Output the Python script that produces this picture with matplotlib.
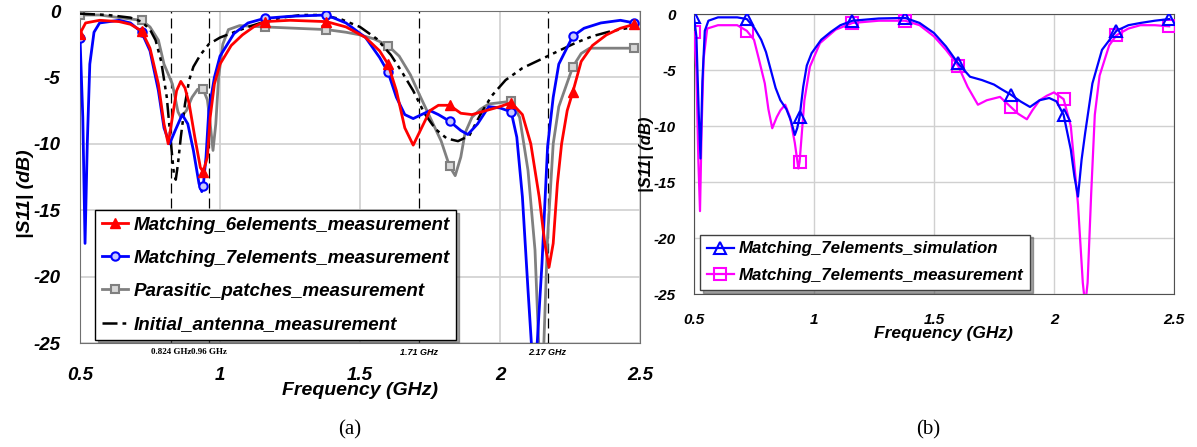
import numpy as np
import matplotlib.pyplot as plt

# ---- panel (a) data ----
red_f = [0.50, 0.52, 0.57, 0.64, 0.68, 0.72, 0.75, 0.78, 0.80, 0.815, 0.83, 0.845,
         0.86, 0.875, 0.89, 0.91, 0.93, 0.94, 0.955, 0.965, 0.98, 1.00, 1.04, 1.08,
         1.12, 1.16, 1.25, 1.38, 1.45, 1.52, 1.57, 1.60, 1.63, 1.66, 1.69, 1.72, 1.75,
         1.78, 1.82, 1.86, 1.90, 1.95, 2.00, 2.04, 2.08, 2.11, 2.14, 2.16, 2.175, 2.19,
         2.205, 2.22, 2.24, 2.26, 2.29, 2.33, 2.38, 2.43, 2.48]
red_s = [-1.7, -0.9, -0.7, -0.8, -1.0, -1.5, -2.8, -5.5, -8.5, -10.0, -8.0, -6.0,
         -5.3, -5.8, -7.0, -9.5, -11.8, -12.1, -11.0, -8.0, -5.5, -4.0, -2.6, -1.8,
         -1.2, -0.8, -0.7, -0.8, -1.2, -2.0, -3.0, -4.0, -6.0, -8.8, -10.1, -8.8, -7.5,
         -7.1, -7.1, -7.7, -7.8, -7.5, -7.2, -6.9, -7.8, -10.0, -14.0, -17.5, -19.3, -17.5,
         -13.0, -10.0, -7.5, -6.1, -3.8, -2.6, -1.8, -1.3, -1.0]

blue_f = [0.50, 0.51, 0.518, 0.526, 0.535, 0.55, 0.57, 0.64, 0.68, 0.72, 0.75, 0.78,
          0.80, 0.82, 0.84, 0.865, 0.885, 0.905, 0.925, 0.935, 0.94, 0.95, 0.96, 0.98,
          1.00, 1.05, 1.10, 1.16, 1.25, 1.38, 1.45, 1.52, 1.57, 1.60, 1.63, 1.66, 1.69,
          1.72, 1.75, 1.78, 1.82, 1.86, 1.885, 1.92, 1.96, 2.00, 2.04, 2.06, 2.08, 2.10,
          2.115, 2.13, 2.15, 2.17, 2.19, 2.21, 2.26, 2.30, 2.36, 2.43, 2.48]
blue_s = [-2.0, -8.0, -17.5, -10.0, -4.0, -1.6, -0.9, -0.7, -0.9, -1.6, -3.0, -6.0,
          -8.8, -10.0, -9.0, -7.8, -8.5, -10.5, -13.0, -13.6, -13.2, -11.0, -7.5, -5.0,
          -3.4, -1.7, -0.9, -0.55, -0.4, -0.3, -0.9, -2.0, -3.5, -4.6, -6.5, -7.8, -8.1,
          -7.8, -7.5, -7.8, -8.3, -9.0, -9.3, -8.5, -7.2, -7.3, -7.6, -9.5, -14.0, -21.0,
          -26.0, -26.0, -19.0, -10.2, -6.5, -4.0, -1.9, -1.3, -0.9, -0.7, -0.9]

gray_f = [0.50, 0.57, 0.64, 0.72, 0.75, 0.78, 0.80, 0.83, 0.85, 0.86, 0.88, 0.90,
          0.92, 0.94, 0.955, 0.965, 0.975, 0.985, 0.995, 1.01, 1.03, 1.07, 1.16, 1.27,
          1.38, 1.45, 1.50, 1.55, 1.60, 1.64, 1.68, 1.71, 1.75, 1.79, 1.82, 1.84, 1.86,
          1.875, 1.90, 1.93, 1.96, 2.00, 2.04, 2.07, 2.10, 2.125, 2.14, 2.155, 2.17,
          2.19, 2.21, 2.23, 2.26, 2.29, 2.32, 2.40, 2.48]
gray_s = [-0.3, -0.3, -0.5, -0.7, -1.2, -2.2, -4.0, -5.5, -7.6, -8.0, -7.5, -6.5,
          -5.9, -5.9, -6.7, -8.5, -10.5, -8.5, -5.0, -2.5, -1.4, -1.1, -1.2, -1.3,
          -1.4, -1.6, -1.8, -2.1, -2.6, -3.4, -4.8, -6.2, -8.0, -9.8, -11.7, -12.4, -11.0,
          -9.2, -8.0, -7.4, -7.0, -6.9, -6.8, -8.0, -12.0, -18.0, -26.0, -26.0, -17.0,
          -10.0, -7.2, -6.0, -4.2, -3.2, -2.8, -2.8, -2.8]

init_f = [0.50, 0.60, 0.68, 0.72, 0.75, 0.77, 0.79, 0.81, 0.825, 0.835, 0.842, 0.85,
          0.86, 0.875, 0.89, 0.905, 0.93, 0.96, 1.00, 1.05, 1.10, 1.16, 1.22, 1.29,
          1.36, 1.43, 1.50, 1.56, 1.61, 1.65, 1.69, 1.73, 1.77, 1.81, 1.85, 1.89, 1.93,
          1.97, 2.02, 2.08, 2.14, 2.21, 2.27, 2.33, 2.40, 2.48]
init_s = [-0.2, -0.3, -0.5, -0.8, -1.4, -2.2, -3.8, -6.5, -10.0, -12.2, -12.7, -11.5,
          -9.5, -7.0, -5.2, -4.2, -3.3, -2.5, -2.0, -1.6, -1.2, -0.8, -0.5, -0.3,
          -0.3, -0.6, -1.2, -2.1, -3.3, -4.6, -6.0, -7.7, -8.9, -9.6, -9.8, -9.4, -7.8,
          -6.4, -5.2, -4.3, -3.7, -3.0, -2.4, -1.9, -1.5, -1.2]

band_f = [0.824, 0.96, 1.71, 2.17]
band_lbl = ["0.824 GHz", "0.96 GHz", "1.71 GHz", "2.17 GHz"]

# ---- panel (b) data ----
sim_f = [0.50, 0.51, 0.52, 0.527, 0.535, 0.545, 0.56, 0.60, 0.68, 0.72, 0.75, 0.78,
         0.80, 0.82, 0.84, 0.86, 0.885, 0.905, 0.92, 0.93, 0.94, 0.955, 0.97, 0.99,
         1.03, 1.07, 1.11, 1.16, 1.27, 1.38, 1.44, 1.50, 1.55, 1.60, 1.65, 1.70, 1.75,
         1.78, 1.82, 1.86, 1.90, 1.94, 1.98, 2.01, 2.04, 2.07, 2.085, 2.10, 2.115, 2.13,
         2.16, 2.20, 2.26, 2.31, 2.36, 2.42, 2.48]
sim_s = [-0.3, -2.0, -9.0, -12.9, -6.0, -1.5, -0.6, -0.3, -0.3, -0.45, -1.2, -2.3,
         -3.4, -5.0, -6.6, -7.7, -8.5, -9.6, -10.8, -10.2, -9.2, -6.5, -4.6, -3.5,
         -2.3, -1.6, -1.0, -0.6, -0.4, -0.35, -0.8, -1.7, -2.9, -4.4, -5.6, -5.9, -6.3,
         -6.7, -7.2, -7.8, -8.3, -7.7, -7.5, -7.8, -9.0, -12.1, -14.5, -16.3, -13.0, -10.6,
         -6.2, -3.2, -1.5, -1.0, -0.8, -0.6, -0.45]

meas_f = [0.50, 0.51, 0.518, 0.525, 0.532, 0.54, 0.555, 0.60, 0.68, 0.72, 0.75, 0.77,
          0.795, 0.81, 0.826, 0.845, 0.86, 0.88, 0.90, 0.92, 0.935, 0.94, 0.96, 0.983,
          1.025, 1.09, 1.16, 1.27, 1.38, 1.44, 1.50, 1.55, 1.60, 1.64, 1.683, 1.72, 1.775,
          1.82, 1.85, 1.887, 1.91, 1.94, 1.97, 2.00, 2.04, 2.07, 2.10, 2.12, 2.13, 2.14,
          2.155, 2.17, 2.19, 2.23, 2.26, 2.31, 2.36, 2.42, 2.48]
meas_s = [-1.6, -5.0, -13.0, -17.6, -10.0, -4.0, -1.3, -1.0, -1.0, -1.5, -2.3, -4.0,
          -6.2, -8.5, -10.2, -9.2, -8.6, -8.1, -9.2, -11.5, -13.8, -13.2, -7.7, -4.7,
          -2.6, -1.4, -0.8, -0.6, -0.6, -1.0, -2.0, -3.2, -4.6, -6.5, -8.1, -7.7, -7.4,
          -8.3, -8.9, -9.4, -8.6, -7.7, -7.3, -7.0, -7.6, -10.0, -17.0, -24.0, -26.0, -24.0,
          -16.0, -9.0, -5.5, -2.8, -1.9, -1.3, -1.0, -1.0, -1.1]

mark_f = [0.50, 0.72, 0.94, 1.16, 1.38, 1.60, 1.82, 2.04, 2.26, 2.48]
xticks = [0.5, 1, 1.5, 2, 2.5]
yticks = [0, -5, -10, -15, -20, -25]


def marks(f):
    return [i for i, v in enumerate(f) if np.any(np.isclose(v, mark_f))]


plt.rcParams['font.family'] = ['Liberation Sans', 'DejaVu Sans']
plt.rcParams['axes.unicode_minus'] = False
bi = dict(fontweight='bold', fontstyle='italic')

fig = plt.figure(figsize=(11.97, 4.47), dpi=100)
ax1 = fig.add_axes([80 / 1197, 1 - 343 / 447, 560 / 1197, 332 / 447])
ax2 = fig.add_axes([694 / 1197, 1 - 294 / 447, 480 / 1197, 280 / 447])

# ---- (a) ----
ax1.plot(red_f, red_s, color='#ff0000', lw=2.0, marker='^', ms=7, markevery=marks(red_f),
         label='Matching_6elements_measurement', zorder=5)
ax1.plot(blue_f, blue_s, color='#0000ff', lw=2.0, marker='o', ms=6, mfc='#c8c8ff', mew=1.5,
         markevery=marks(blue_f), label='Matching_7elements_measurement', zorder=4)
ax1.plot(gray_f, gray_s, color='#808080', lw=2.0, marker='s', ms=6, mfc='#d8d8d8', mew=1.5,
         markevery=marks(gray_f), label='Parasitic_patches_measurement', zorder=3)
ax1.plot(init_f, init_s, color='black', lw=1.8, ls=(0, (6, 2, 1.5, 2, 1.5, 2)),
         label='Initial_antenna_measurement', zorder=3)
for f, lbl in zip(band_f, band_lbl):
    ax1.axvline(f, color='black', lw=0.9, ls=(0, (8, 4)), zorder=2)
    if f < 1:
        ax1.text(f, -0.028, lbl, transform=ax1.get_xaxis_transform(), ha='center', va='center',
                 fontsize=6.5, fontweight='bold', family=['Liberation Serif'])
    else:
        ax1.text(f, -0.028, lbl, transform=ax1.get_xaxis_transform(), ha='center', va='center',
                 fontsize=6.5, **bi)

ax1.set_xlim(0.5, 2.5)
ax1.set_ylim(-25, 0)
ax1.set_xticks(xticks)
ax1.set_xticklabels(['0.5', '1', '1.5', '2', '2.5'])
ax1.set_yticks(yticks)
ax1.grid(True, color='#d0d0d0', lw=1.2)
ax1.set_axisbelow(True)
ax1.tick_params(length=0, labelsize=13.5)
ax1.tick_params(axis='x', pad=17)
ax1.tick_params(axis='y', pad=14)
for t in ax1.get_xticklabels() + ax1.get_yticklabels():
    t.set_fontweight('bold')
    t.set_fontstyle('italic')
for s in ax1.spines.values():
    s.set_color('#707070')
ax1.set_xlabel('Frequency (GHz)', fontsize=14, **bi)
ax1.xaxis.set_label_coords(0.5, -0.143)
ax1.xaxis.label.set_va('center')
ax1.set_ylabel('|S11| (dB)', fontsize=14, **bi)
ax1.yaxis.set_label_coords(-0.098, 0.45)
ax1.yaxis.label.set_va('center')
leg1 = ax1.legend(loc='lower left', bbox_to_anchor=(0.027, 0.01), borderaxespad=0,
                  prop=dict(size=13.5, weight='bold', style='italic'), frameon=True,
                  fancybox=False, shadow=True, edgecolor='black', handlelength=1.4,
                  labelspacing=0.85, borderpad=0.35, handletextpad=0.3)
leg1.get_frame().set_linewidth(1.0)
leg1.set_zorder(10)

# ---- (b) ----
ax2.plot(sim_f, sim_s, color='#0000ff', lw=1.6, marker='^', ms=8, mfc='none', mew=1.5,
         markevery=marks(sim_f), label='Matching_7elements_simulation', zorder=5)
ax2.plot(meas_f, meas_s, color='#ff00ff', lw=1.6, marker='s', ms=9, mfc='none', mew=1.5,
         markevery=marks(meas_f), label='Matching_7elements_measurement', zorder=4)
ax2.set_xlim(0.5, 2.5)
ax2.set_ylim(-25, 0)
ax2.set_xticks(xticks)
ax2.set_xticklabels(['0.5', '1', '1.5', '2', '2.5'])
ax2.set_yticks(yticks)
ax2.grid(True, color='#d0d0d0', lw=1.0)
ax2.set_axisbelow(True)
ax2.tick_params(length=0, labelsize=11)
ax2.tick_params(axis='x', pad=14)
ax2.tick_params(axis='y', pad=13)
for t in ax2.get_xticklabels() + ax2.get_yticklabels():
    t.set_fontweight('bold')
    t.set_fontstyle('italic')
for s in ax2.spines.values():
    s.set_color('#505050')
ax2.set_xlabel('Frequency (GHz)', fontsize=12.5, **bi)
ax2.xaxis.set_label_coords(0.52, -0.14)
ax2.xaxis.label.set_va('center')
ax2.set_ylabel('|S11| (dB)', fontsize=12, **bi)
ax2.yaxis.set_label_coords(-0.1, 0.5)
ax2.yaxis.label.set_va('center')
leg2 = ax2.legend(loc='lower left', bbox_to_anchor=(0.012, 0.014), borderaxespad=0,
                  prop=dict(size=12.2, weight='bold', style='italic'), frameon=True,
                  fancybox=False, shadow=True, edgecolor='#404040', handlelength=1.6,
                  labelspacing=0.7, borderpad=0.4, handletextpad=0.3)
leg2.get_frame().set_linewidth(1.0)
leg2.set_zorder(10)

fig.text(350 / 1197, 1 - 430 / 447, '(a)', ha='center', va='center', fontsize=15,
         family=['Liberation Serif'])
fig.text(928 / 1197, 1 - 430 / 447, '(b)', ha='center', va='center', fontsize=15,
         family=['Liberation Serif'])

fig.savefig('out.png', dpi=100)
